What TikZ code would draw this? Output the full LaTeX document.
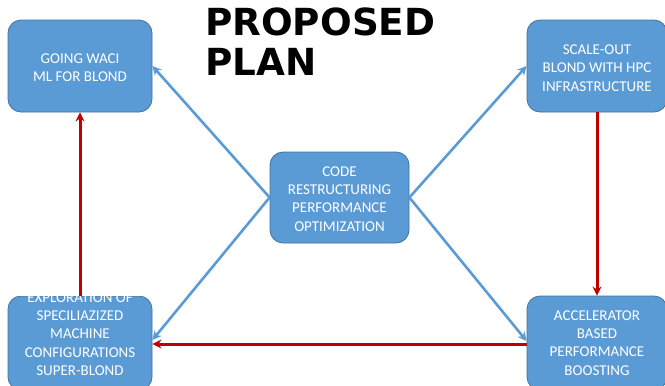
\documentclass[tikz,border=0pt]{standalone}
\usepackage{fontspec}
\setmainfont{Carlito}
\newfontfamily\titlefont{DejaVu Sans}
\usetikzlibrary{arrows.meta}
\definecolor{boxfill}{HTML}{5B9BD5}
\definecolor{boxline}{HTML}{41719C}
\definecolor{flowblue}{HTML}{5B9BD5}
\definecolor{flowred}{HTML}{C00000}
\tikzset{
  planbox/.style={draw=boxline, line width=0.8pt, fill=boxfill, rounded corners=13pt,
    inner sep=0pt},
  boxtext/.style={text=white, align=center, inner sep=0pt,
    font=\fontsize{15}{18.3}\selectfont},
  blueflow/.style={draw=flowblue, line width=2.6pt, -{Stealth[length=9pt,width=9pt]}},
  redflow/.style={draw=flowred, line width=3pt, -{Stealth[length=9pt,width=9pt]}},
}
\begin{document}
\begin{tikzpicture}[x=1pt,y=-1pt]
\useasboundingbox (0,0) rectangle (665,386);
\clip (0,0) rectangle (665,386);
% the five stages
\node[planbox, minimum width=144pt, minimum height=92pt] (tl) at (80,66) {};
\node[planbox, minimum width=140pt, minimum height=92pt] (tr) at (597,66) {};
\node[planbox, minimum width=139pt, minimum height=91pt] (c)  at (339.5,197.5) {};
\node[planbox, minimum width=144pt, minimum height=94pt] (bl) at (80,343) {};
\node[planbox, minimum width=140pt, minimum height=94pt] (br) at (597,343) {};
% stage labels
\node[boxtext] (tlt) at (80,68) {GOING WACI\\ML FOR BLOND};
\node[boxtext] (trt) at (597,68) {SCALE-OUT\\BLOND WITH HPC\\INFRASTRUCTURE};
\node[boxtext] (ct)  at (339.5,199) {CODE\\RESTRUCTURING\\PERFORMANCE\\OPTIMIZATION};
\node[boxtext] (blt) at (80,334) {EXPLORATION OF\\SPECILIAZIZED\\MACHINE\\CONFIGURATIONS\\SUPER-BLOND};
\node[boxtext] (brt) at (597,343) {ACCELERATOR\\BASED\\PERFORMANCE\\BOOSTING};
% hide the part of the first line that sticks out above its box
\fill[white] (8,280) rectangle (152,295.6);
% title
\node[anchor=north west, inner sep=0pt, align=left,
  font=\titlefont\bfseries\fontsize{37.3}{40}\selectfont] (title) at (205,8) {PROPOSED\\PLAN};
% connectors from the central stage
\draw[blueflow] (c.west) -- (tl.east);
\draw[blueflow] (c.east) -- (tr.west);
\draw[blueflow] (c.west) -- ([yshift=3pt]bl.east);
\draw[blueflow] (c.east) -- ([yshift=2pt]br.west);
% outer cycle
\draw[redflow] (tr.south) -- (br.north);
\draw[redflow] ([yshift=-1pt]br.west) -- ([yshift=-1pt]bl.east);
\draw[redflow] (bl.north) -- (tl.south);
\end{tikzpicture}
\end{document}
